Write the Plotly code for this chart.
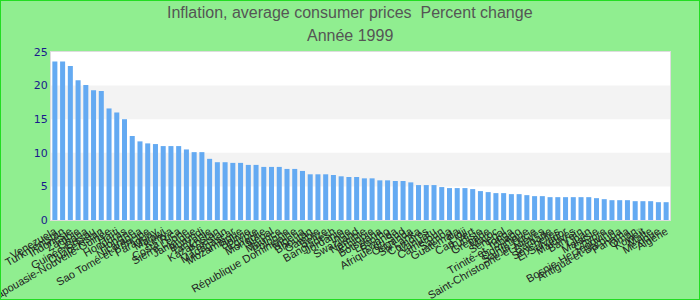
import plotly.graph_objects as go

countries = [
    "Venezuela", "Turkménistan", "Indonésie", "Zambie", "Ghana", "Guinée-Bissau", "Ouzbékistan",
    "Papouasie-Nouvelle-Guinée", "Haïti", "Honduras", "Hongrie", "Nicaragua", "Sao Tomé-et-Principe",
    "Paraguay", "Malawi", "Kenya", "Costa Rica", "Sierra Leone", "Jamaïque", "Burundi", "Tanzanie",
    "Kazakhstan", "Pakistan", "Madagascar", "Mozambique", "Bolivie", "Égypte", "Mongolie", "Népal",
    "Maurice", "Pologne", "République Dominicaine", "Nigeria", "Bhoutan", "Gambie", "Belize",
    "Bangladesh", "Jordanie", "Inde", "Swaziland", "Namibie", "Éthiopie", "Botswana", "Lesotho",
    "Rwanda", "Afrique du Sud", "Ouganda", "Sri Lanka", "Comores", "Vanuatu", "Cameroun", "Samoa",
    "Guatemala", "Fidji", "Cap-Vert", "Tunisie", "Grenade", "Maroc", "Sénégal", "Tonga",
    "Trinité-et-Tobago", "Dominique", "Sainte-Lucie", "Saint-Christophe-et-Niévès", "Barbade",
    "Seychelles", "El Salvador", "Maldives", "Bahreïn", "Liban", "Malaisie", "Chypre",
    "Bosnie-Herzégovine", "Antigua-et-Barbuda", "Panama", "Oman", "Koweït", "Malte", "Mexique", "Algérie",
]

inflation = [
    23.6, 23.6, 22.9, 20.8, 20.1, 19.3, 19.2, 16.6, 16.0, 15.0,
    12.5, 11.7, 11.4, 11.3, 11.0, 11.0, 11.0, 10.5, 10.1, 10.1,
    9.1, 8.6, 8.6, 8.5, 8.5, 8.2, 8.2, 7.9, 7.9, 7.9,
    7.6, 7.6, 7.3, 6.8, 6.8, 6.8, 6.7, 6.5, 6.4, 6.4,
    6.2, 6.2, 5.9, 5.9, 5.8, 5.8, 5.6, 5.2, 5.2, 5.2,
    4.9, 4.75, 4.75, 4.75, 4.6, 4.3, 4.15, 4.0, 4.0, 3.85,
    3.85, 3.7, 3.55, 3.55, 3.4, 3.4, 3.4, 3.4, 3.4, 3.4,
    3.25, 3.1, 2.95, 2.95, 2.95, 2.8, 2.8, 2.8, 2.65, 2.65,
]

title_line1 = "Inflation, average consumer prices \u00a0Percent change"
title_line2 = "Année 1999"
y_ticks = [0, 5, 10, 15, 20, 25]

PLOT_H = 168
fig = go.Figure()
fig.add_trace(go.Bar(x=countries, y=inflation, marker=dict(color="#64aaf2", line=dict(width=0))))

# alternating bands
for lo, hi in [(5, 10), (15, 20)]:
    fig.add_shape(type="rect", xref="paper", yref="y", x0=0, x1=1, y0=lo, y1=hi,
                  fillcolor="#f3f3f3", line=dict(width=0), layer="below")

# outer border
fig.add_shape(type="rect", xref="paper", yref="paper", x0=-51/619, x1=1 + 30/619,
              y0=-80/PLOT_H, y1=1 + 52/PLOT_H, line=dict(color="#22dd22", width=2), fillcolor="rgba(0,0,0,0)")

# title lines
for txt, ypx in [(title_line1, 13), (title_line2, 36)]:
    fig.add_annotation(text=txt, xref="paper", yref="paper", x=(350 - 51) / 619, xanchor="center",
                       y=1 + (52 - ypx) / PLOT_H, yanchor="middle", showarrow=False,
                       font=dict(family="Liberation Sans, Arial", size=16, color="#555555"))

fig.update_layout(
    width=700, height=300,
    margin=dict(l=51, r=30, t=52, b=80),
    paper_bgcolor="#90ee90",
    plot_bgcolor="#ffffff",
    bargap=0.35,
    showlegend=False,
    xaxis=dict(tickangle=-30, tickmode="array", tickvals=countries, ticktext=countries,
               tickfont=dict(family="Liberation Sans, Arial", size=11, color="#222222"),
               showgrid=False, showline=True, linecolor="#dddddd", mirror=True, ticks="", automargin=False),
    yaxis=dict(range=[0, 25], tickvals=y_ticks, tickfont=dict(family="DejaVu Sans", size=11, color="#1a1a8c"),
               showgrid=False, zeroline=False, showline=True, linecolor="#dddddd", mirror=True,
               ticks="", automargin=False),
)

fig.write_html("out.html")
